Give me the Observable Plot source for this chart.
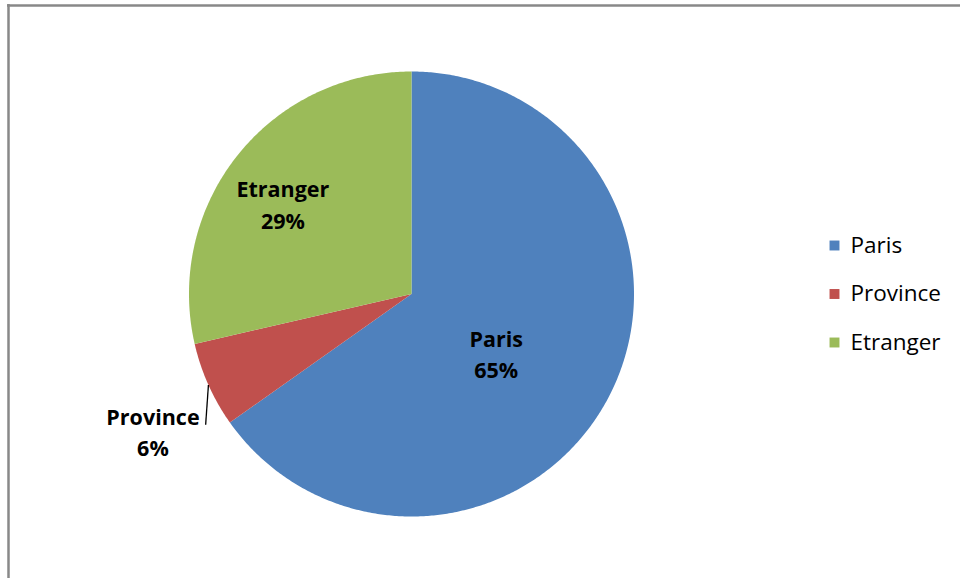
<!DOCTYPE html>
<html>
<head>
<meta charset="utf-8">
<script src="https://cdn.jsdelivr.net/npm/d3@7"></script>
<script src="https://cdn.jsdelivr.net/npm/@observablehq/plot@0.6"></script>
<style>
  html, body { margin: 0; padding: 0; background: #fff; }
  #chart { width: 960px; height: 578px; overflow: hidden; }
</style>
</head>
<body>
<div id="chart"></div>
<script>
// ---- data ----
const categories = ["Paris", "Province", "Etranger"];
const shares = [65.2, 6.2, 28.6];
const colors = ["#4F81BD", "#C0504D", "#9BBB59"];

// ---- layout ----
const W = 960, H = 578;
const cx = 411, cy = 293.5, R = 222.5;
const deg = Math.PI / 180;
const polar = (a, r) => ({x: cx + r * Math.sin(a * deg), y: cy - r * Math.cos(a * deg)});

const total = d3.sum(shares);
let acc = 0;
const slices = categories.map((name, i) => {
  const a0 = acc / total * 360;
  acc += shares[i];
  const a1 = acc / total * 360;
  return {name, value: shares[i], a0, a1, mid: (a0 + a1) / 2};
});

// polygon points for each slice
const piePoints = [];
for (const s of slices) {
  piePoints.push({name: s.name, x: cx, y: cy});
  const n = Math.max(2, Math.ceil((s.a1 - s.a0) / 0.5));
  for (let k = 0; k <= n; k++) {
    const a = s.a0 + (s.a1 - s.a0) * k / n;
    piePoints.push({name: s.name, ...polar(a, R)});
  }
}

// label placement (angle nudge, radius factor)
const labelLayout = {Paris: [8.5, 0.47], Province: [-4.2, 1.32], Etranger: [-4.2, 0.70]};
const labels = slices.map(s => {
  const [da, k] = labelLayout[s.name];
  return {name: s.name, text: `${s.name}\n${Math.round(s.value / total * 100)}%`, ...polar(s.mid + da, k * R)};
});

// leader line for the outside label
const prov = slices.find(s => s.name === "Province");
const leaderStart = polar(prov.mid, R);
const leaderEnd = polar(prov.mid - 8.3, R * 1.096);
const leaders = [{x1: leaderStart.x, y1: leaderStart.y, x2: leaderEnd.x, y2: leaderEnd.y}];

// legend entries
const legend = categories.map((name, i) => ({name, x: 834, y: 245 + i * 48.5}));

const plot = Plot.plot({
  width: W, height: H,
  margin: 0,
  x: {domain: [0, W], range: [0, W], axis: null},
  y: {domain: [0, H], range: [0, H], axis: null},
  color: {domain: categories, range: colors},
  style: {fontFamily: "'Open Sans', 'DejaVu Sans', sans-serif", background: "#fff"},
  marks: [
    // chart border (top and left visible)
    Plot.ruleY([5], {x1: 7, x2: W, stroke: "#888", strokeWidth: 2.5}),
    Plot.ruleX([8], {y1: 4, y2: H, stroke: "#888", strokeWidth: 2.5}),
    // pie slices
    Plot.line(piePoints, {x: "x", y: "y", z: "name", fill: "name", stroke: "none", curve: "linear-closed"}),
    // leader line
    Plot.link(leaders, {x1: "x1", y1: "y1", x2: "x2", y2: "y2", stroke: "#000", strokeWidth: 1.3}),
    // data labels
    Plot.text(labels, {x: "x", y: "y", dy: -3, text: "text", fontSize: 21.5, fontWeight: "bold", fill: "#000", lineHeight: 1.48}),
    // legend
    Plot.dot(legend, {x: "x", y: "y", fill: "name", symbol: "square", r: 5.6, stroke: "none"}),
    Plot.text(legend, {x: d => d.x + 16, y: "y", text: "name", textAnchor: "start", fontSize: 22.5, fill: "#000"})
  ]
});
document.getElementById("chart").appendChild(plot);
</script>
</body>
</html>
